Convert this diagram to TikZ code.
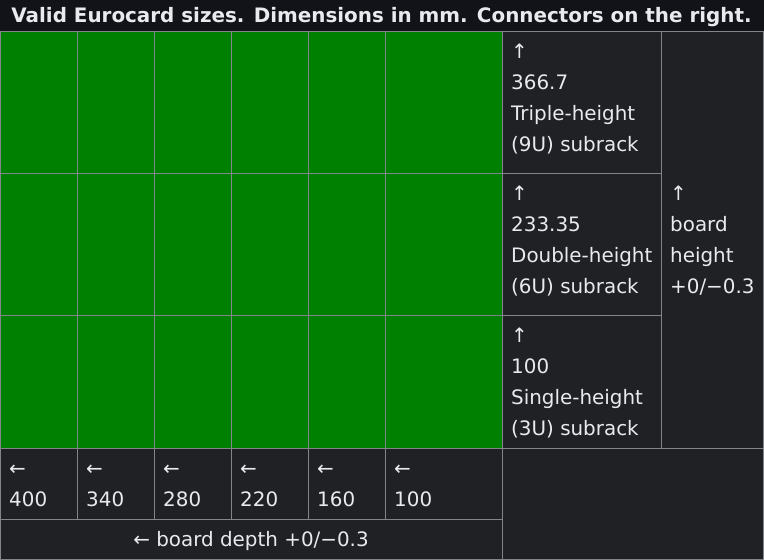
\documentclass[tikz,border=0pt]{standalone}
\usepackage{fontspec}
\setmainfont{DejaVu Sans}
\definecolor{titlebg}{HTML}{111318}
\definecolor{cellbg}{HTML}{202124}
\definecolor{boardgreen}{HTML}{008000}
\definecolor{gridc}{HTML}{80868B}
\definecolor{fg}{HTML}{E8EAED}
\begin{document}
\begin{tikzpicture}[x=1pt,y=-1pt,
  txt/.style={anchor=base west,inner sep=0pt,text=fg,font=\fontsize{19.9}{31}\selectfont},
  ctxt/.style={anchor=base,inner sep=0pt,text=fg,font=\fontsize{19.9}{31}\selectfont},
  ttl/.style={anchor=base,inner sep=0pt,text=fg,font=\fontsize{19.9}{24}\selectfont\bfseries},
  gridline/.style={draw=gridc,line width=1pt}]
\useasboundingbox (0,0) rectangle (764,560);
% backgrounds
\fill[titlebg] (0,0) rectangle (764,31);
\fill[cellbg] (0,31) rectangle (764,560);
\fill[boardgreen] (0,31) rectangle (502,448);
% grid
\draw[gridline] (0.5,31.5) rectangle (763.5,559.5);
\foreach \x in {77.5,154.5,231.5,308.5,385.5}
  \draw[gridline] (\x,31.5) -- (\x,519.5);
\draw[gridline] (502.5,31.5) -- (502.5,559.5);
\draw[gridline] (661.5,31.5) -- (661.5,448.5);
\draw[gridline] (0.5,173.5) -- (661.5,173.5);
\draw[gridline] (0.5,315.5) -- (661.5,315.5);
\draw[gridline] (0.5,448.5) -- (763.5,448.5);
\draw[gridline] (0.5,519.5) -- (502.5,519.5);
% title
\node[ttl] (title) at (381.5,22) {Valid Eurocard sizes. Dimensions in mm. Connectors on the right.};
% height cells
\node[txt] (h1a) at (511,58) {↑};
\node[txt] (h1b) at (511,89) {366.7};
\node[txt] (h1c) at (511,120) {Triple-height};
\node[txt] (h1d) at (511,151) {(9U) subrack};
\node[txt] (h2a) at (511,200) {↑};
\node[txt] (h2b) at (511,231) {233.35};
\node[txt] (h2c) at (511,262) {Double-height};
\node[txt] (h2d) at (511,293) {(6U) subrack};
\node[txt] (h3a) at (511,342) {↑};
\node[txt] (h3b) at (511,373) {100};
\node[txt] (h3c) at (511,404) {Single-height};
\node[txt] (h3d) at (511,435) {(3U) subrack};
% board height
\node[txt] (bha) at (670,200) {↑};
\node[txt] (bhb) at (670,231) {board};
\node[txt] (bhc) at (670,262) {height};
\node[txt] (bhd) at (670,293) {+0/−0.3};
% depths
\foreach \x/\v [count=\i] in {9/400,86/340,163/280,240/220,317/160,394/100} {
  \node[txt] (da\i) at (\x,475) {←};
  \node[txt] (dv\i) at (\x,506) {\v};
}
\node[ctxt] (depth) at (251,546) {← board depth +0/−0.3};
\end{tikzpicture}
\end{document}
